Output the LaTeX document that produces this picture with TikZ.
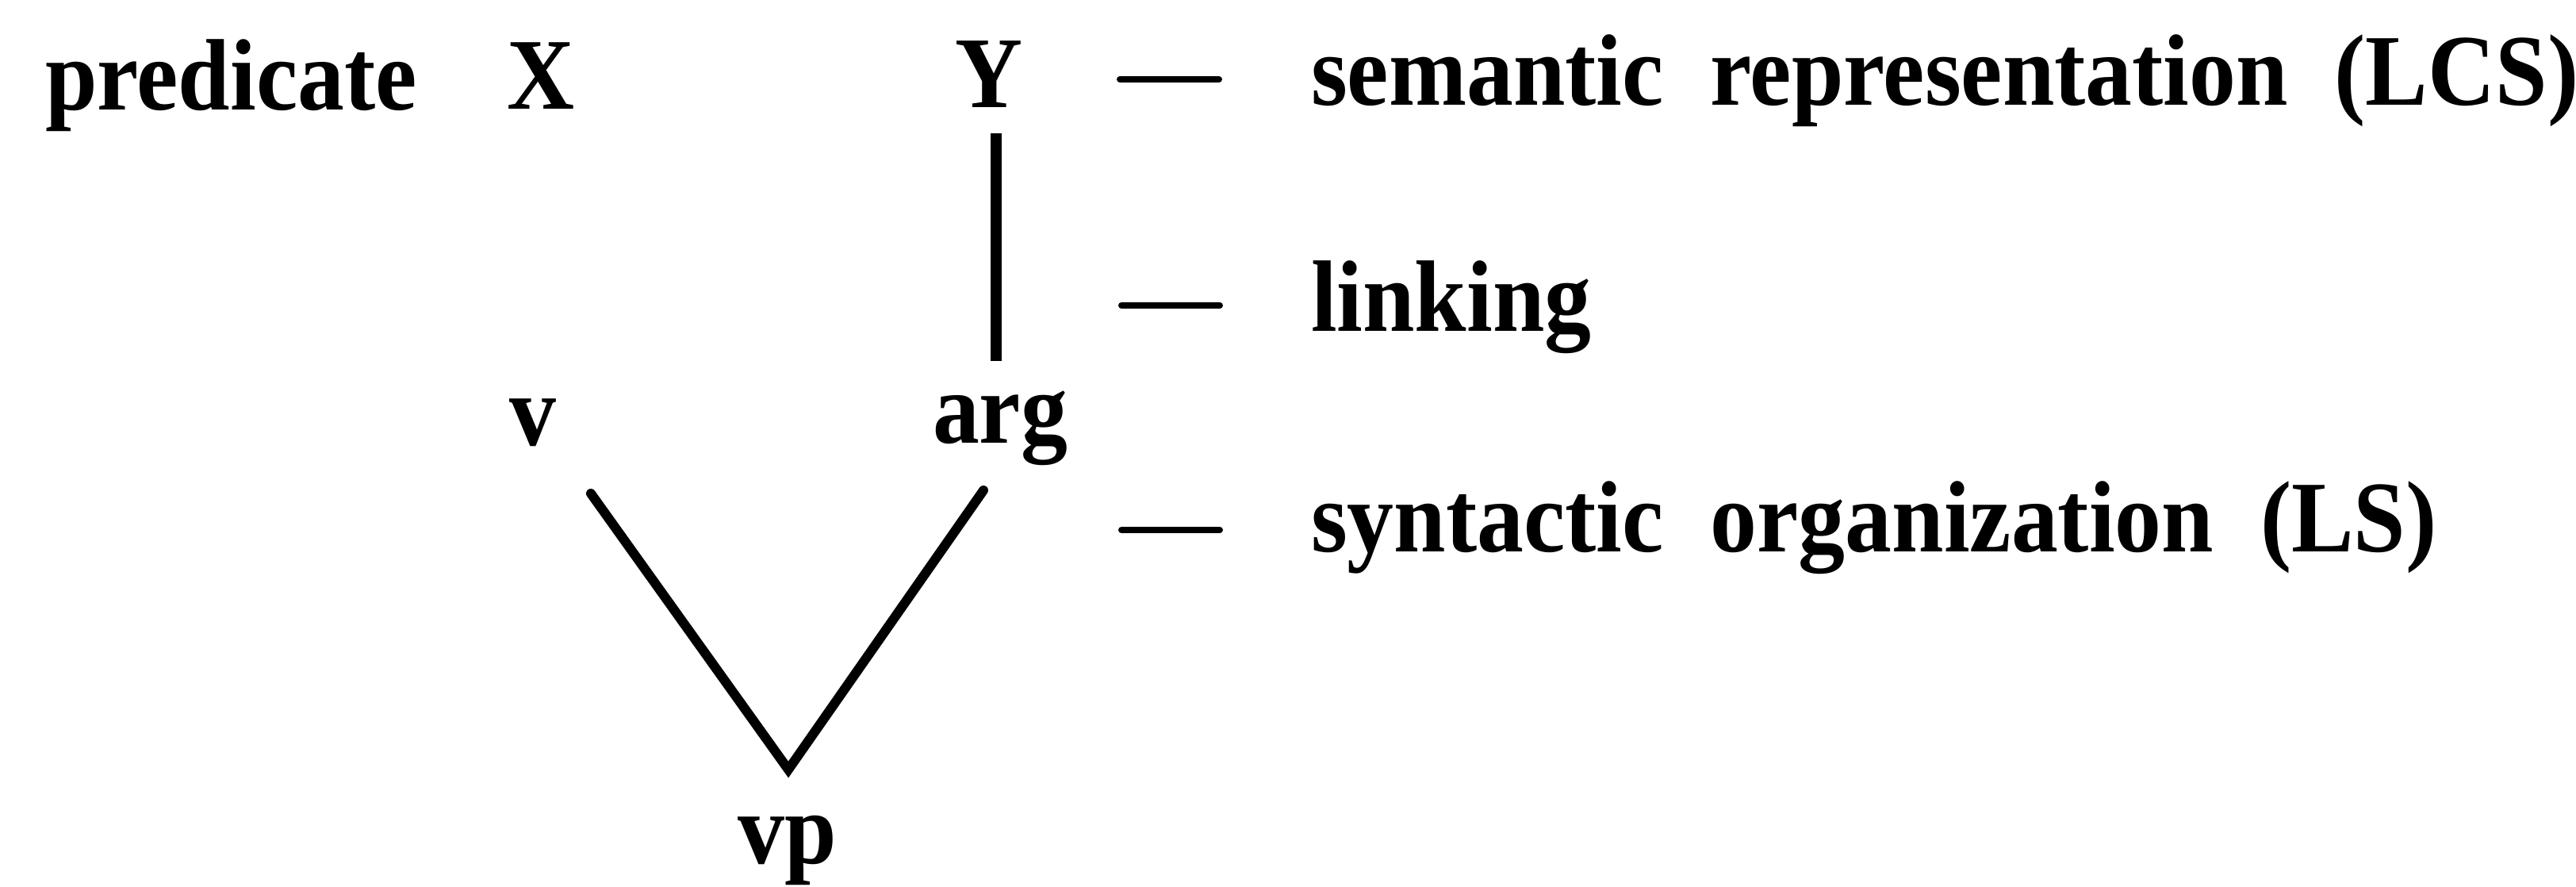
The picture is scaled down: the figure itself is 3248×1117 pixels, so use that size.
\documentclass[tikz,border=0pt]{standalone}
\usepackage{fontspec}
\setmainfont{Liberation Serif}[FakeStretch=0.92, WordSpace=2]
\begin{document}
\begin{tikzpicture}[x=0.25pt,y=-0.25pt,
  lbl/.style={inner sep=0pt, outer sep=0pt, font=\fontsize{32}{38}\selectfont\bfseries},
  treeline/.style={line width=3pt, line cap=round, line join=miter},
  linkline/.style={line width=3.6pt},
  levdash/.style={line width=2pt, line cap=round}]
\useasboundingbox (0,0) rectangle (3248,1117);
% labels
\node[lbl, anchor=base west] (pred) at (57,138) {predicate};
\node[lbl, anchor=base] (X) at (682,137) {X};
\node[lbl, anchor=base] (Y) at (1247,135) {Y};
\node[lbl, anchor=base west] (sem) at (1653,132) {semantic representation (LCS)};
\node[lbl, anchor=base west] (link) at (1653,417) {linking};
\node[lbl, anchor=base west] (syn) at (1653,695) {syntactic organization (LS)};
\node[lbl, anchor=base] (v) at (672,561) {v};
\node[lbl, anchor=base west] (arg) at (1176,558) {arg};
\node[lbl, anchor=base] (vp) at (993,1088) {vp};
% linking line
\coordinate (linktop) at (1256,168);
\coordinate (linkbot) at (1256,455);
\draw[linkline] (linktop) -- (linkbot);
% level dashes
\coordinate (d1a) at (1412,100); \coordinate (d1b) at (1537,100);
\coordinate (d2a) at (1414,385); \coordinate (d2b) at (1538,385);
\coordinate (d3a) at (1414,668); \coordinate (d3b) at (1538,668);
\draw[levdash] (d1a) -- (d1b);
\draw[levdash] (d2a) -- (d2b);
\draw[levdash] (d3a) -- (d3b);
% tree
\coordinate (vfoot) at (745,622);
\coordinate (argfoot) at (1240,618);
\coordinate (apex) at (994,970);
\draw[treeline] (vfoot) -- (apex) -- (argfoot);
\end{tikzpicture}
\end{document}
